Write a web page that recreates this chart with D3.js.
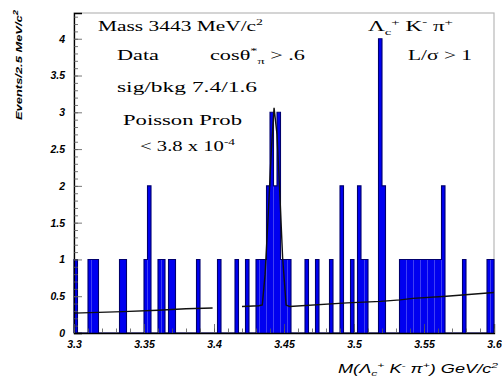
<!DOCTYPE html>
<html>
<head>
<meta charset="utf-8">
<script src="https://cdn.jsdelivr.net/npm/d3@7"></script>
<style>
  html, body { margin: 0; padding: 0; background: #fff; }
  svg { display: block; }
</style>
</head>
<body>
<svg id="chart" width="502" height="380"></svg>
<script>
// ---------------- data ----------------
const massMin = 3.3, massMax = 3.6, binWidth = 0.0025;   // GeV/c^2, 2.5 MeV bins
const counts = [
  1,0,0,0,1,1,1,0,0,0,
  0,0,0,1,1,0,0,0,0,0,
  1,2,0,0,1,1,0,1,1,0,
  0,0,0,0,0,1,0,0,0,0,
  0,1,0,0,0,0,1,0,0,1,
  0,0,1,1,1,2,3,2,3,1,
  1,1,0,0,0,0,1,0,0,1,
  0,0,0,1,0,0,2,0,0,1,
  0,2,1,1,0,0,0,4,2,0,
  0,0,0,1,1,1,1,1,1,1,
  1,1,1,1,1,2,0,0,0,0,
  0,1,0,0,0,0,0,0,1,1
];
// fit curve (null = gap in drawn curve)
const fitMass  = [3.300,3.335,3.360,3.380,3.399,null,3.420,3.432,3.4345,3.4365,3.4388,3.441,3.4429,3.445,3.447,3.449,3.4515,3.454,3.495,3.519,3.533,3.542,3.566,3.600];
const fitValue = [0.27, 0.29, 0.31, 0.33, 0.34, null,0.36, 0.37, 0.38,  0.8,   1.63,  2.5,  3.06,  2.7,  1.9,  1.03, 0.38,  0.36, 0.41, 0.43, 0.45, 0.47, 0.50, 0.55];
const xMajorTicks = [3.3,3.35,3.4,3.45,3.5,3.55,3.6];
const yMajorTicks = [0,0.5,1,1.5,2,2.5,3,3.5,4];
const yMax = 4.35;

// ---------------- layout ----------------
const svg = d3.select("#chart");
const L = 74, R = 494, T = 13, B = 333;
const x = d3.scaleLinear().domain([massMin, massMax]).range([L, R]);
const y = d3.scaleLinear().domain([0, yMax]).range([B, T]);

svg.append("rect").attr("width",502).attr("height",380).attr("fill","#fff");

// frame
svg.append("rect").attr("x",L).attr("y",T).attr("width",R-L).attr("height",B-T)
   .attr("fill","none").attr("stroke","#b8b8b8").attr("stroke-width",1.2);

// histogram fill
const bins = counts.map((c,i)=>({lo: massMin + i*binWidth, hi: massMin + (i+1)*binWidth, c}));
svg.append("g").selectAll("rect").data(bins.filter(b=>b.c>0)).join("rect")
  .attr("x", d=>x(d.lo)).attr("width", d=>x(d.hi)-x(d.lo))
  .attr("y", d=>y(d.c)).attr("height", d=>y(0)-y(d.c))
  .attr("fill","#0000f0");

// histogram outline (step)
let pts = [[x(massMin), y(0)]];
bins.forEach(b=>{ pts.push([x(b.lo), y(b.c)]); pts.push([x(b.hi), y(b.c)]); });
pts.push([x(massMax), y(0)]);
svg.append("path").attr("d", d3.line()(pts)).attr("fill","none")
   .attr("stroke","#00006e").attr("stroke-width",1.1);

// fit curve
const fitPts = fitMass.map((m,i)=>({m, v: fitValue[i]}));
svg.append("path")
  .attr("d", d3.line().defined(d=>d.m!==null).x(d=>x(d.m)).y(d=>y(d.v))(fitPts))
  .attr("fill","none").attr("stroke","#111").attr("stroke-width",1.4);

// axes
const tickFont = "Liberation Sans, Arial, sans-serif";
const yAxis = svg.append("g").attr("transform",`translate(${L},0)`)
  .call(d3.axisLeft(y).tickValues(yMajorTicks).tickSize(-8).tickPadding(9)
        .tickFormat(d=> d%1===0 ? String(d) : d.toFixed(1)));
svg.append("g").attr("transform",`translate(${L},0)`)
  .call(d3.axisLeft(y).tickValues(d3.range(0,44).map(i=>i/10)).tickSize(-4).tickFormat(""))
  .call(g=>g.select(".domain").remove());
const xAxis = svg.append("g").attr("transform",`translate(0,${B})`)
  .call(d3.axisBottom(x).tickValues(xMajorTicks).tickSize(-9).tickPadding(6)
        .tickFormat(d3.format("")));
svg.append("g").attr("transform",`translate(0,${B})`)
  .call(d3.axisBottom(x).tickValues(d3.range(0,31).map(i=>3.3+i*0.01)).tickSize(-4.5).tickFormat(""))
  .call(g=>g.select(".domain").remove());
[yAxis, xAxis].forEach(g=>{
  g.select(".domain").attr("stroke","#000").attr("stroke-width",1.3);
  g.selectAll("text").attr("font-family",tickFont).attr("font-style","italic")
   .attr("font-weight","bold").attr("font-size",10.5).attr("fill","#000");
});
svg.selectAll(".tick line").attr("stroke","#555").attr("stroke-width",0.8);
xAxis.selectAll("text").attr("dy","0.9em");

// axis titles
const xt = svg.append("text").attr("x",498).attr("y",373).attr("text-anchor","end")
  .attr("font-family",tickFont).attr("font-style","italic").attr("font-size",12)
  .attr("textLength",160).attr("lengthAdjust","spacingAndGlyphs");
xt.append("tspan").text("M(Λ");
xt.append("tspan").attr("font-size",8).attr("dy",3).text("c");
xt.append("tspan").attr("font-size",8).attr("dy",-8).text("+");
xt.append("tspan").attr("dy",5).text(" K");
xt.append("tspan").attr("font-size",8).attr("dy",-5).text("-");
xt.append("tspan").attr("dy",5).text(" π");
xt.append("tspan").attr("font-size",8).attr("dy",-5).text("+");
xt.append("tspan").attr("dy",5).text(") GeV/c");
xt.append("tspan").attr("font-size",8).attr("dy",-5).text("2");

const yt = svg.append("text").attr("transform","translate(22,10) rotate(-90)")
  .attr("text-anchor","end").attr("font-family",tickFont).attr("font-style","italic")
  .attr("font-weight","bold").attr("font-size",9.5)
  .attr("textLength",110).attr("lengthAdjust","spacingAndGlyphs");
yt.append("tspan").text("Events/2.5 MeV/c");
yt.append("tspan").attr("font-size",7).attr("dy",-4).text("2");

// annotations
const serif = "Liberation Serif, Times New Roman, serif";
function ann(xp, yp, len, parts){
  const t = svg.append("text").attr("x",xp).attr("y",yp).attr("font-family",serif)
    .attr("font-size",14).attr("fill","#000")
    .attr("textLength",len).attr("lengthAdjust","spacingAndGlyphs");
  parts.forEach(p=>{
    const s = t.append("tspan").text(p[0]);
    if (p[1]) s.attr("font-size",p[1]);
    if (p[2]) s.attr("dy",p[2]);
  });
  return t;
}
ann(98, 31, 165, [["Mass 3443 MeV/c"],["2",9,-6],["",14,6]]);
ann(368, 31, 85, [["Λ"],["c",9,4],["+",9,-10],[" K",14,6],["-",9,-6],[" π",14,6],["+",9,-6]]);
ann(117, 60, 42, [["Data"]]);
ann(210, 60, 95, [["cosθ"],["*",9,-6],["π",9,10],[" > .6",14,-4]]);
ann(408, 60, 64, [["L/σ > 1"]]);
ann(117, 92, 140, [["sig/bkg  7.4/1.6"]]);
ann(123, 125, 119, [["Poisson Prob"]]);
ann(140, 151, 95, [["< 3.8 x 10"],["-4",9,-6]]);
</script>
</body>
</html>
